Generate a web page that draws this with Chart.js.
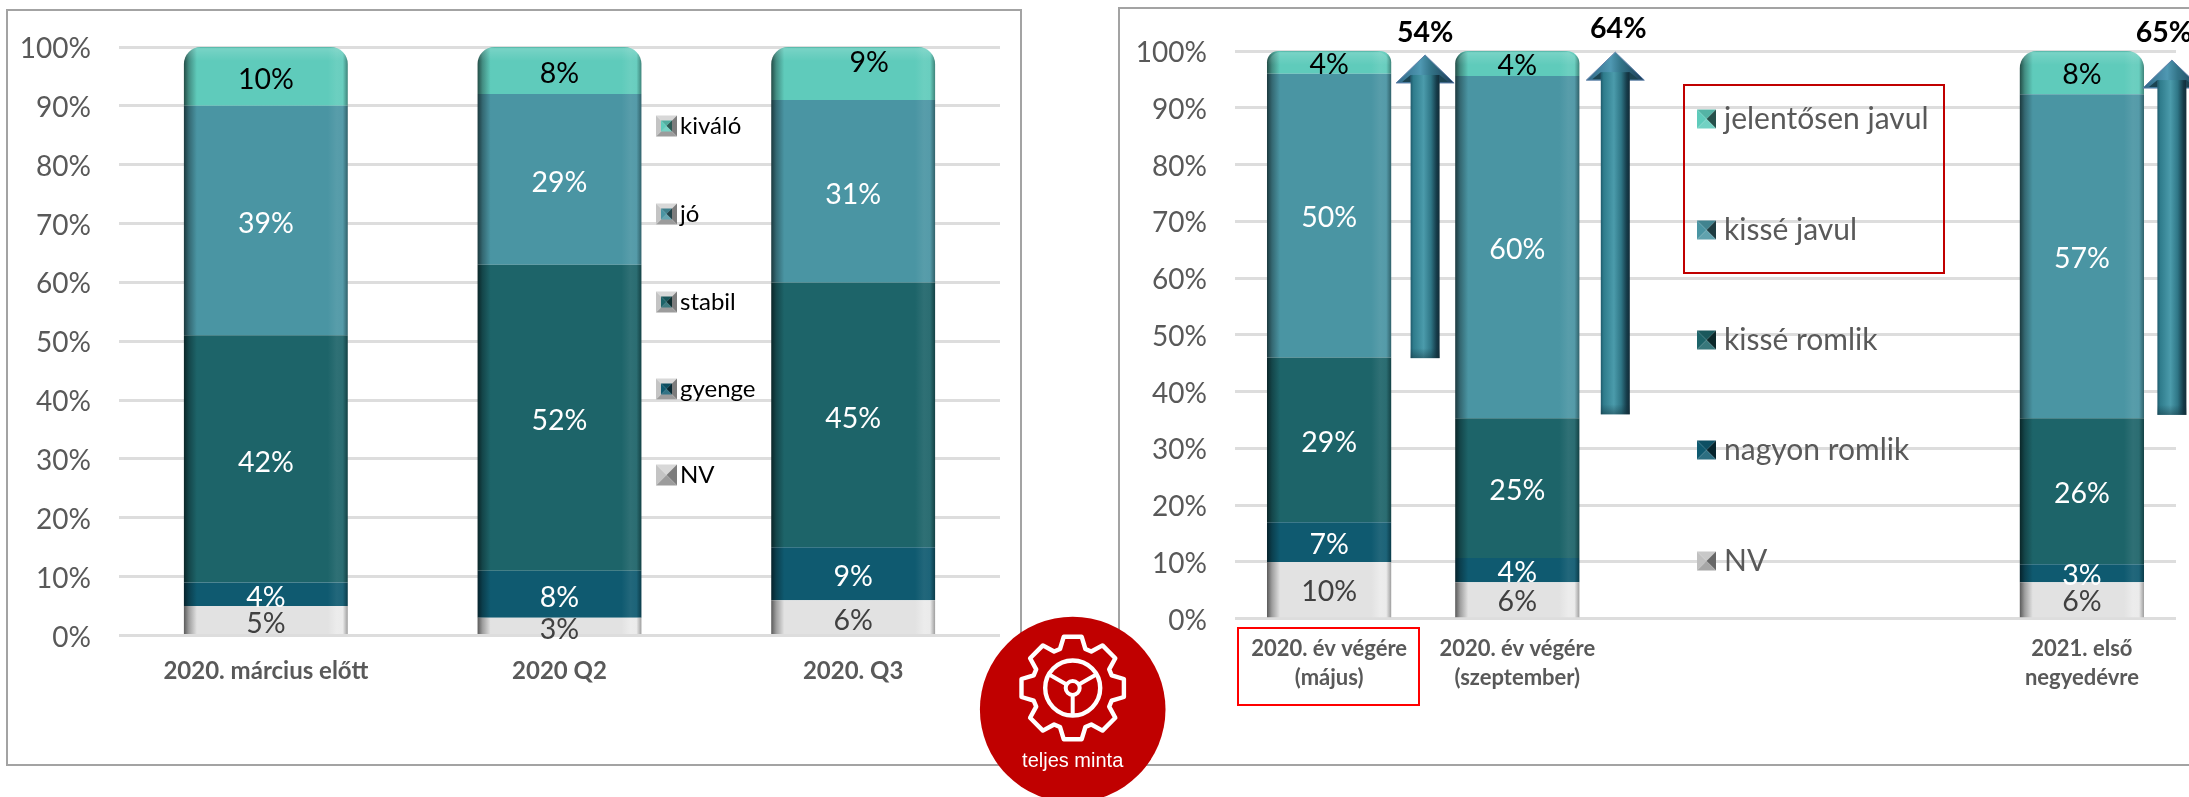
<!DOCTYPE html>
<html lang="hu">
<head>
<meta charset="utf-8">
<title>Chart</title>
<script src="https://cdn.jsdelivr.net/npm/chart.js@4"></script>
<style>
html,body{margin:0;padding:0;background:#fff;width:2189px;height:797px;overflow:hidden}
canvas{position:absolute;top:0}
.panel{position:absolute;border:2px solid #a3a3a3;box-sizing:border-box;background:#fff}
.box{position:absolute;box-sizing:border-box;pointer-events:none}
#badge{position:absolute;left:0;top:0}
</style>
</head>
<body>
<div class="panel" style="left:6px;top:9px;width:1016px;height:757px"></div>
<div class="panel" style="left:1118px;top:7px;width:1100px;height:759px"></div>
<canvas id="left" width="1060" height="797" style="left:0"></canvas>
<canvas id="right" width="1089" height="797" style="left:1100px"></canvas>
<div class="box" style="left:1683px;top:84px;width:262px;height:190px;border:2.5px solid #c00000"></div>
<div class="box" style="left:1237px;top:627px;width:183px;height:79px;border:2px solid #ff0000"></div>
<svg id="badge" width="2189" height="797" xmlns="http://www.w3.org/2000/svg">
  <circle cx="1072.7" cy="709.5" r="92.8" fill="#c00000"/>
  <path id="gear" fill="none" stroke="#fff" stroke-width="4.4" stroke-linejoin="round"/>
  <circle cx="1072.7" cy="688" r="27.5" fill="none" stroke="#fff" stroke-width="4.4"/>
  <circle cx="1072.7" cy="688" r="7" fill="none" stroke="#fff" stroke-width="4"/>
  <path d="M1072.7 695V715.5M1066.6 684.5L1048.7 674.2M1078.8 684.5L1096.7 674.2" stroke="#fff" stroke-width="4" fill="none"/>
  <text x="1072.7" y="767" text-anchor="middle" fill="#fff" font-family="Liberation Sans" font-size="20">teljes minta</text>
</svg>
<script>
// ---------- left chart ----------
const leftCategories = ['2020. március előtt', '2020 Q2', '2020. Q3'];
const leftSeriesNames = ['NV', 'gyenge', 'stabil', 'jó', 'kiváló'];
const leftNV     = [5, 3, 6];
const leftGyenge = [4, 8, 9];
const leftStabil = [42, 52, 45];
const leftJo     = [39, 29, 31];
const leftKivalo = [10, 8, 9];

// ---------- right chart ----------
const rightCategories = [['2020. év végére', '(május)'], ['2020. év végére', '(szeptember)'], '', '', ['2021. első', 'negyedévre']];
const rightSeriesNames = ['NV', 'nagyon romlik', 'kissé romlik', 'kissé javul', 'jelentősen javul'];
const rightNV         = [10, 6.4, null, null, 6.4];
const rightNagyon     = [7, 4.3, null, null, 3.2];
const rightKisseRomlik= [29, 24.6, null, null, 25.7];
const rightKisseJavul = [50, 60.3, null, null, 57.1];
const rightJelentosen = [4, 4.4, null, null, 7.6];

// arrows of the right chart: category index, label, top and foot on the value axis
const arrowCategory = [0, 1, 4];
const arrowLabels   = ['54%', '64%', '65%'];
const arrowTop      = [99.3, 99.8, 98.4];
const arrowFoot     = [45.9, 36, 35.9];

const yTicks = [0, 10, 20, 30, 40, 50, 60, 70, 80, 90, 100];

// ---------- styling ----------
const FONT = 'Lato';
const seriesColors = ['#e2e2e2', '#0f5a70', '#1d6469', '#4a95a3', '#5fcbbb'];
const labelColors  = ['#404040', '#ffffff', '#ffffff', '#ffffff', '#000000'];

function hexRgb(h){return [1,3,5].map(i=>parseInt(h.substr(i,2),16));}
function mix(hex, other, t){
  const a=hexRgb(hex), b=hexRgb(other);
  return 'rgb('+a.map((v,i)=>Math.round(v+(b[i]-v)*t)).join(',')+')';
}

function barFill(color, barFraction){
  return function(c){
    const chart=c.chart, sx=chart.scales.x;
    if(c.dataIndex===undefined||!sx) return color;
    const w=(sx.width/chart.data.labels.length)*barFraction;
    const cx=sx.getPixelForValue(c.dataIndex);
    if(!isFinite(w)||!isFinite(cx)||w<=40) return color;
    const x0=cx-w/2, g=chart.ctx.createLinearGradient(x0,0,x0+w,0);
    const grey=color==='#e2e2e2';
    g.addColorStop(0,mix(color,'#000000',grey?0.6:0.62));
    g.addColorStop(5/w,mix(color,'#000000',grey?0.3:0.3));
    g.addColorStop(13/w,color);
    g.addColorStop((w-20)/w,color);
    g.addColorStop((w-11)/w,mix(color,'#ffffff',grey?0.35:0.08));
    g.addColorStop((w-5)/w,mix(color,'#ffffff',grey?0.3:0.06));
    g.addColorStop(1,mix(color,'#000000',grey?0.3:0.35));
    return g;
  };
}

function marker(ctx,x,y,w,h,color,framed){
  function tri(pts,fill){ctx.fillStyle=fill;ctx.beginPath();pts.forEach((p,i)=>i?ctx.lineTo(p[0],p[1]):ctx.moveTo(p[0],p[1]));ctx.closePath();ctx.fill();}
  function bevel(x,y,w,h,top,left,right,bottom){
    const cx=x+w/2, cy=y+h/2;
    tri([[x,y],[x+w,y],[cx,cy]],top);
    tri([[x,y],[x,y+h],[cx,cy]],left);
    tri([[x+w,y],[x+w,y+h],[cx,cy]],right);
    tri([[x,y+h],[x+w,y+h],[cx,cy]],bottom);
  }
  if(framed){
    ctx.fillStyle='#fff';ctx.fillRect(x,y,w,h);
    bevel(x,y,w,h,'#d8d8d8','#c4c4c4','#7c7c7c','#9c9c9c');
    const p=5;
    if(color!=='#e2e2e2') bevel(x+p,y+p,w-2*p,h-2*p,mix(color,'#000000',.15),color,mix(color,'#000000',.55),mix(color,'#ffffff',.15));
  } else {
    if(color==='#e2e2e2') bevel(x,y,w,h,'#c8c8c8','#c0c0c0','#666666','#a6a6a6');
    else bevel(x,y,w,h,mix(color,'#000000',.12),color,mix(color,'#000000',.6),mix(color,'#ffffff',.12));
  }
}

function drawArrow(ctx,cx,tip,foot){
  const hw=29, sw=14.5, hh=28;
  // shaft
  const g=ctx.createLinearGradient(cx-sw,0,cx+sw,0);
  g.addColorStop(0,'#1f5a6c');g.addColorStop(.1,'#2f7c8c');g.addColorStop(.45,'#4b9bab');
  g.addColorStop(.7,'#2f7686');g.addColorStop(.9,'#153a48');g.addColorStop(1,'#122c38');
  // head
  ctx.beginPath();ctx.moveTo(cx,tip);ctx.lineTo(cx+hw,tip+hh);ctx.lineTo(cx-hw,tip+hh);ctx.closePath();
  const hg=ctx.createLinearGradient(cx-hw,0,cx+hw,0);
  hg.addColorStop(0,'#2f6685');hg.addColorStop(.42,'#4f98b2');hg.addColorStop(.6,'#337488');hg.addColorStop(1,'#1c3a56');
  ctx.fillStyle=hg;ctx.fill();
  ctx.lineWidth=1;ctx.strokeStyle='#5c7ea8';ctx.stroke();
  // shaft and its shoulder inside the head
  ctx.fillStyle=g;ctx.fillRect(cx-sw,tip+hh-8,sw*2,foot-tip-hh+8);
  ctx.fillStyle='#1b4452';
  ctx.beginPath();ctx.moveTo(cx-sw,tip+hh-8);ctx.lineTo(cx-hw+6,tip+hh-1);ctx.lineTo(cx-sw,tip+hh-1);ctx.closePath();ctx.fill();
  ctx.beginPath();ctx.moveTo(cx+sw,tip+hh-8);ctx.lineTo(cx+hw-6,tip+hh-1);ctx.lineTo(cx+sw,tip+hh-1);ctx.closePath();ctx.fill();
  // foot
  const fg=ctx.createLinearGradient(0,foot-10,0,foot);
  fg.addColorStop(0,'rgba(20,50,60,0)');fg.addColorStop(1,'rgba(20,50,60,.45)');
  ctx.fillStyle=fg;ctx.fillRect(cx-sw,foot-10,sw*2,10);
}

function overlay(o){
  return {
    id:'overlay',
    afterDatasetsDraw(chart){
      const ctx=chart.ctx, yS=chart.scales.y, xS=chart.scales.x;
      ctx.save();
      // top bevel of the top series
      const top=chart.getDatasetMeta(chart.data.datasets.length-1);
      top.data.forEach(el=>{
        const p=el.getProps(['x','y','base','width'],true);
        if(p.y==null||isNaN(p.y)||p.y===p.base)return;
        ctx.save();
        ctx.beginPath();
        ctx.roundRect(p.x-p.width/2,p.y,p.width,p.base-p.y,[o.radius,o.radius,0,0]);
        ctx.clip();
        const g=ctx.createLinearGradient(0,p.y,0,p.y+14);
        g.addColorStop(0,'rgba(0,60,50,.18)');g.addColorStop(.12,'rgba(255,255,255,.16)');g.addColorStop(.4,'rgba(255,255,255,.1)');g.addColorStop(1,'rgba(255,255,255,0)');
        ctx.fillStyle=g;ctx.fillRect(p.x-p.width/2,p.y,p.width,14);
        ctx.restore();
      });
      // value labels
      ctx.textAlign='center';ctx.textBaseline='middle';
      ctx.font='28.5px '+FONT;
      chart.data.datasets.forEach((ds,d)=>{
        chart.getDatasetMeta(d).data.forEach((el,i)=>{
          const v=ds.data[i];
          if(v==null)return;
          const p=el.getProps(['x','y','base'],true);
          const n=o.nudge[d+':'+i]||[0,0];
          ctx.fillStyle=labelColors[d];
          ctx.fillText(Math.round(v)+'%',p.x+n[0],(p.y+p.base)/2+o.dy+n[1]);
        });
      });
      // arrows
      if(o.arrows){
        arrowCategory.forEach((cat,i)=>{
          const cx=xS.getPixelForValue(cat)+o.arrowDx[i];
          const tip=yS.getPixelForValue(arrowTop[i]);
          drawArrow(ctx,cx,tip,yS.getPixelForValue(arrowFoot[i]));
          ctx.font='bold 28.5px '+FONT;ctx.fillStyle='#000';
          ctx.fillText(arrowLabels[i],cx+o.arrowLabelDx[i],tip+o.arrowLabelDy[i]);
        });
      }
      // legend (first series at the bottom, as in the stack)
      ctx.textAlign='left';
      ctx.font=o.legendFont;
      const n=chart.data.datasets.length;
      chart.data.datasets.forEach((ds,d)=>{
        const row=n-1-d, y=o.legendY[row];
        marker(ctx,o.legendX,y-o.markH/2,o.markW,o.markH,seriesColors[d],o.framed);
        ctx.fillStyle=o.legendColor;
        ctx.fillText(ds.label,o.legendTextX,y+o.legendTextDy);
      });
      ctx.restore();
    }
  };
}

function shiftLabelsDown(s,dy){
  if(s._shifted)return;
  s._shifted=true;
  const orig=s._computeLabelItems;
  s._computeLabelItems=function(a){
    const items=orig.call(this,a);
    items.forEach(it=>{const t=it.options.translation;it.options.translation=[t[0],t[1]+dy];});
    return items;
  };
}

function build(id,labels,names,series,o){
  const datasets=series.map((data,i)=>({
    label:names[i],data,
    backgroundColor:barFill(seriesColors[i],o.frac),
    borderWidth:0,borderSkipped:false,
    borderRadius:i===series.length-1?{topLeft:o.radius,topRight:o.radius,bottomLeft:0,bottomRight:0}:0,
    barPercentage:1,categoryPercentage:o.frac
  }));
  return new Chart(document.getElementById(id),{
    type:'bar',
    data:{labels,datasets},
    options:{
      responsive:false,animation:false,
      layout:{padding:{left:0,right:o.padRight,top:o.padTop,bottom:0}},
      plugins:{legend:{display:false},tooltip:{enabled:false},title:{display:false}},
      scales:{
        x:{stacked:true,
          grid:{display:false},border:{display:false},
          ticks:{autoSkip:false,maxRotation:0,minRotation:0,padding:o.xPad,color:'#595959',
            font:{family:FONT,weight:'bold',size:o.xSize,lineHeight:o.xLine+'px'}},
          afterFit(s){s.height=o.xHeight;}
        },
        y:{stacked:true,min:0,max:100,
          afterBuildTicks(s){s.ticks=yTicks.map(v=>({value:v}));shiftLabelsDown(s,2);},
          grid:{color:'#dddddd',lineWidth:3,drawTicks:false},border:{display:false},
          ticks:{padding:o.yPad,color:'#595959',font:{family:FONT,size:28},callback:v=>v+'%'},
          afterFit(s){s.width=o.yWidth;}
        }
      }
    },
    plugins:[overlay(o)]
  });
}

build('left',leftCategories,leftSeriesNames,[leftNV,leftGyenge,leftStabil,leftJo,leftKivalo],{
  frac:0.558,radius:17,padRight:60,padTop:47,xHeight:161.5,yWidth:119,yPad:28,xPad:13,xSize:24,xLine:29,
  dy:3.5,nudge:{'4:2':[16,-14]},
  legendX:656,legendY:[126,214,302,389,475],markW:21,markH:21,framed:true,
  legendTextX:680,legendTextDy:0,legendFont:'24px '+FONT,legendColor:'#000'
});
build('right',rightCategories,rightSeriesNames,[rightNV,rightNagyon,rightKisseRomlik,rightKisseJavul,rightJelentosen],{
  frac:0.66,radius:17,padRight:13,padTop:51,xHeight:178.3,yWidth:135,yPad:28,xPad:8,xSize:22,xLine:29,
  dy:2.5,nudge:{},
  arrows:true,arrowDx:[96,98,90],arrowLabelDx:[0,3,-8],arrowLabelDy:[-22.5,-23.7,-27],
  legendX:597,legendY:[119,230,340,450,561],markW:19,markH:19,framed:false,
  legendTextX:624,legendTextDy:0,legendFont:'30px '+FONT,legendColor:'#595959'
});

// gear outline of the badge
(function(){
  const cx=1072.7,cy=688,ro=52,rr=41,d1=18,d2=10;let d='';
  for(let k=0;k<8;k++){
    const a=k*45-90;
    [[a-d1,rr],[a-d2,ro],[a+d2,ro],[a+d1,rr]].forEach(p=>{
      const t=p[0]*Math.PI/180;
      d+=(d?'L':'M')+(cx+p[1]*Math.cos(t)).toFixed(1)+' '+(cy+p[1]*Math.sin(t)).toFixed(1);
    });
  }
  document.getElementById('gear').setAttribute('d',d+'Z');
})();
</script>
</body>
</html>
